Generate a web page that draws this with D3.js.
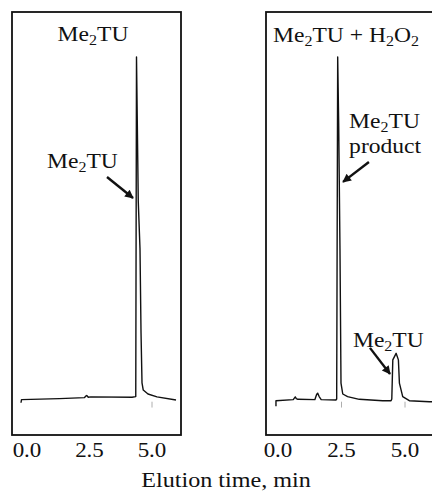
<!DOCTYPE html>
<html>
<head>
<meta charset="utf-8">
<script src="https://cdn.jsdelivr.net/npm/d3@7"></script>
<style>
  body { margin: 0; background: #fff; }
  text { font-family: "Liberation Serif", "DejaVu Serif", serif; fill: #111; }
</style>
</head>
<body>
<div id="chart"></div>
<script>
// chromatogram traces (time in min, detector signal in % of tallest peak)
const timeA   = [-0.24, -0.22, 1.3, 2.3, 2.38, 2.41, 2.45, 2.55, 4.2, 4.35, 4.38, 4.45, 4.52, 4.56, 4.60, 4.65, 4.84, 5.2, 5.96];
const signalA = [-0.8, 0.1, 0.4, 0.7, 1.3, 1.2, 0.8, 0.9, 0.8, 1.0, 100, 58, 44, 20, 5.0, 2.9, 1.75, 0.9, 0.0];

const timeB   = [-0.08, -0.08, 0.6, 0.68, 0.72, 0.78, 1.45, 1.52, 1.56, 1.62, 1.7, 2.28, 2.31, 2.35, 2.39, 2.44, 2.48, 2.55, 2.74, 3.2, 4.12, 4.45, 4.48, 4.52, 4.65, 4.74, 4.78, 4.91, 5.17, 5.96, 6.4];
const signalB = [-1.8, -0.2, 0.1, 0.9, 0.4, 0.2, 0.1, 1.6, 2.0, 1.0, 0.1, 0.0, 0.3, 100, 80, 44, 4.9, 1.75, 1.0, 0.2, -0.2, -0.2, 0.3, 11.7, 13.6, 11.7, 4.9, 1.0, -0.2, -0.5, -0.5];

const tickValues = [0, 2.5, 5.0];
const tickLabels = ["0.0", "2.5", "5.0"];
const faintTicksA = [5.0];
const faintTicksB = [2.5, 5.0];

// annotation arrows: [tailTime, tailSignal, tipTime, tipSignal]
const arrowsA = [[3.2, 65, 4.24, 58.9]];
const arrowsB = [[3.58, 69.4, 2.56, 63.6], [3.62, 15.2, 4.41, 7.6]];

// "_" marks the next character as a subscript
const titleA = "Me_2TU";
const titleB = "Me_2TU + H_2O_2";
const peakLabel = "Me_2TU";
const productLabel = "product";
const axisTitle = "Elution time, min";

const W = 432, H = 491;
const STRETCH = 1.15; // the scanned figure is a bit wide
const svg = d3.select("#chart").append("svg").attr("width", W).attr("height", H);

const y = d3.scaleLinear().domain([0, 100]).range([400, 57]);
const xA = d3.scaleLinear().domain([0, 5]).range([27, 152]);
const xB = d3.scaleLinear().domain([0, 5]).range([278, 405]);

svg.append("defs").append("marker")
    .attr("id", "head")
    .attr("viewBox", "0 0 10 10")
    .attr("refX", 9).attr("refY", 5)
    .attr("markerWidth", 6).attr("markerHeight", 3.6)
    .attr("markerUnits", "strokeWidth")
    .attr("orient", "auto")
    .append("path").attr("d", "M0,0 L10,5 L0,10 Z").attr("fill", "#111");

function label(g, xPos, yPos, str, size, anchor) {
  const t = g.append("text")
      .attr("transform", `translate(${xPos},${yPos}) scale(${STRETCH},1)`)
      .attr("font-size", size)
      .attr("text-anchor", anchor || "start");
  let buf = "";
  let shifted = false;
  for (let i = 0; i < str.length; i++) {
    if (str[i] === "_") {
      if (buf) { t.append("tspan").attr("dy", shifted ? -4 : 0).text(buf); shifted = false; }
      t.append("tspan").attr("font-size", size * 0.68).attr("dy", shifted ? 0 : 4).text(str[i + 1]);
      shifted = true;
      buf = "";
      i++;
    } else {
      buf += str[i];
    }
  }
  if (buf) t.append("tspan").attr("dy", shifted ? -4 : 0).text(buf);
  return t;
}

function panel(x, frame, time, signal, faint, arrows) {
  const g = svg.append("g");
  g.append("rect")
      .attr("x", frame[0]).attr("y", 12)
      .attr("width", frame[1] - frame[0]).attr("height", 423)
      .attr("fill", "none").attr("stroke", "#111").attr("stroke-width", 1.8);

  const line = d3.line().x(d => x(d[0])).y(d => y(d[1]));
  g.append("path")
      .datum(d3.zip(time, signal))
      .attr("d", line)
      .attr("fill", "none").attr("stroke", "#111").attr("stroke-width", 1.4)
      .attr("stroke-linejoin", "round");

  g.selectAll("line.faint").data(faint).join("line")
      .attr("class", "faint")
      .attr("x1", d => x(d)).attr("x2", d => x(d))
      .attr("y1", y(-0.5)).attr("y2", y(-2.2))
      .attr("stroke", "#999").attr("stroke-width", 0.8);

  g.selectAll("line.arrow").data(arrows).join("line")
      .attr("class", "arrow")
      .attr("x1", d => x(d[0])).attr("y1", d => y(d[1]))
      .attr("x2", d => x(d[2])).attr("y2", d => y(d[3]))
      .attr("stroke", "#111").attr("stroke-width", 2.4)
      .attr("marker-end", "url(#head)");

  tickValues.forEach((v, i) => label(g, x(v), 457, tickLabels[i], 20, "middle"));
  return g;
}

const gA = panel(xA, [12, 181], timeA, signalA, faintTicksA, arrowsA);
const gB = panel(xB, [266, 445], timeB, signalB, faintTicksB, arrowsB);

label(gA, 93, 41, titleA, 20.5, "middle");
label(gA, xA(0.8), y(67.5), peakLabel, 20.5);

label(gB, 273, 42, titleB, 20.5);
label(gB, xB(2.8), y(79.3), peakLabel, 20.5);
label(gB, xB(2.8), y(72), productLabel, 20.5);
label(gB, xB(2.95), y(15.5), peakLabel, 20.5);

label(svg, 226, 487, axisTitle, 21, "middle");
</script>
</body>
</html>
